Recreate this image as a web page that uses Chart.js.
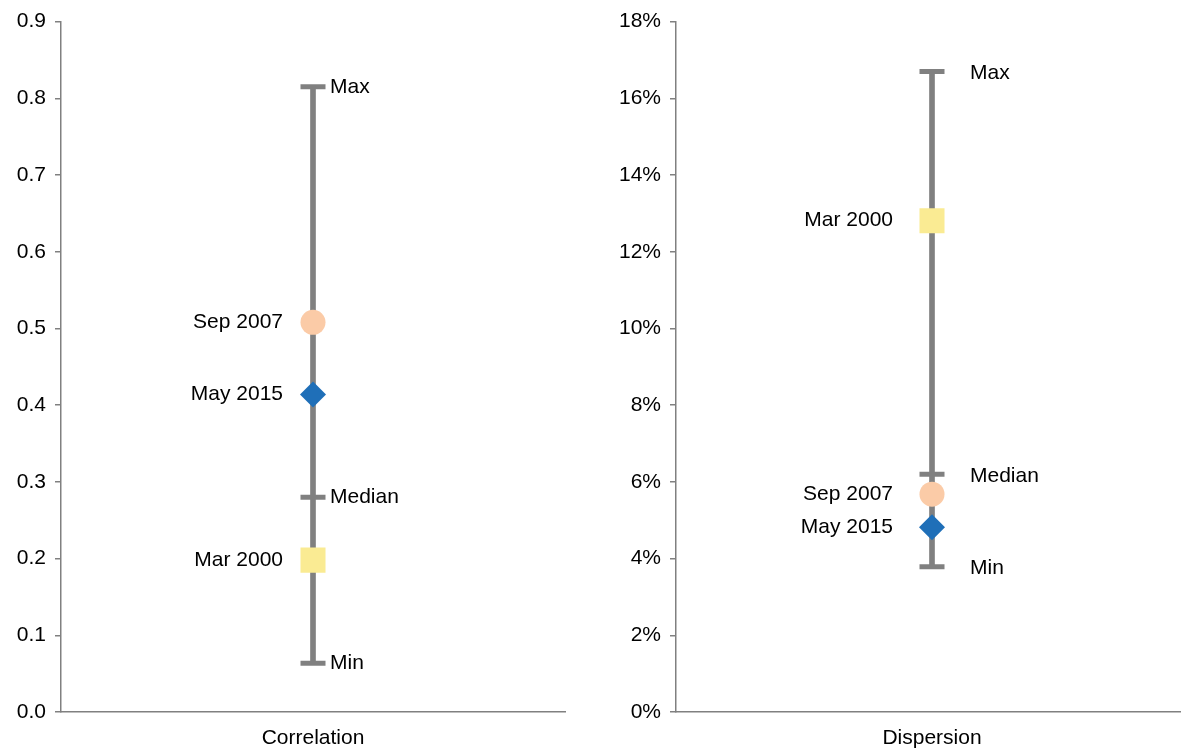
<!DOCTYPE html>
<html>
<head>
<meta charset="utf-8">
<script src="https://cdn.jsdelivr.net/npm/chart.js@4/dist/chart.umd.min.js"></script>
<style>
  html, body { margin: 0; padding: 0; background: #fff; overflow: hidden; }
  canvas { position: absolute; top: 0; }
  #corrChart { left: 0; }
  #dispChart { left: 615px; }
</style>
</head>
<body>
<canvas id="corrChart" width="590" height="748"></canvas>
<canvas id="dispChart" width="573" height="748"></canvas>
<script>
// Data

const markerNames = ["Sep 2007", "May 2015", "Mar 2000"];
const corrMarkers = [0.508, 0.414, 0.198];
const dispMarkers = [5.68, 4.82, 12.81];

const statNames = ["Max", "Median", "Min"];
const corrStats = [0.815, 0.280, 0.0635];
const dispStats = [16.70, 6.20, 3.79];

const corrTicks = ["0.0", "0.1", "0.2", "0.3", "0.4", "0.5", "0.6", "0.7", "0.8", "0.9"];
const dispTicks = ["0%", "2%", "4%", "6%", "8%", "10%", "12%", "14%", "16%", "18%"];

const markerStyles = ["circle", "rectRot", "rect"];
const markerColors = ["#FBCBA7", "#1F6FB8", "#FAEB93"];
const markerRadius = [12.5, 13, 17.7];
const grey = "#808080";
const FONT = "'Liberation Sans', Arial, sans-serif";

// LABELS PLUGIN
const labelPlugin = {
    id: "labels",
    afterDatasetsDraw(chart, args, opts) {
        const ctx = chart.ctx;
        ctx.save();
        ctx.font = "21px " + FONT;
        ctx.fillStyle = "#000";
        ctx.textBaseline = "middle";
        chart.data.datasets.forEach((ds, i) => {
            if (!ds.tag) return;
            const pt = chart.getDatasetMeta(i).data[0];
            if (ds.kind === "stat") {
                ctx.textAlign = "left";
                ctx.fillText(ds.tag, pt.x + opts.statDx, pt.y + opts.statDy);
            } else {
                ctx.textAlign = "right";
                ctx.fillText(ds.tag, pt.x - opts.markDx, pt.y);
            }
        });
        ctx.restore();
    }
};

// BUILD CHART
function makeChart(id, category, markers, stats, ticks, step, opts) {

    const datasets = [];

    markers.forEach((v, i) => {
        datasets.push({
            type: "line",
            tag: markerNames[i],
            kind: "mark",
            data: [v],
            showLine: false,
            pointStyle: markerStyles[i],
            pointRadius: markerRadius[i],
            pointBackgroundColor: markerColors[i],
            pointBorderWidth: 0,
            order: 1
        });
    });

    stats.forEach((v, i) => {
        datasets.push({
            type: "line",
            tag: statNames[i],
            kind: "stat",
            data: [v],
            showLine: false,
            pointStyle: "line",
            pointRadius: 12.5,
            pointBorderColor: grey,
            pointBorderWidth: 5,
            order: 2
        });
    });

    // whisker between min and max
    datasets.push({
        type: "bar",
        data: [[Math.min(...stats), Math.max(...stats)]],
        backgroundColor: grey,
        barThickness: 5,
        order: 3
    });

    new Chart(document.getElementById(id), {
        data: { labels: [category], datasets },
        options: {
            responsive: false,
            animation: false,
            devicePixelRatio: 1,
            layout: {
                autoPadding: false,
                padding: { top: 19, right: opts.padRight, left: 0, bottom: 0 }
            },
            plugins: {
                legend: { display: false },
                tooltip: { enabled: false },
                labels: opts.labels
            },
            scales: {
                x: {
                    type: "category",
                    grid: { display: false, drawTicks: false },
                    border: { color: grey, width: 1.5 },
                    ticks: { color: "#000", font: { size: 21, family: FONT }, padding: 14 },
                    afterFit: s => { s.height = 36; }
                },
                y: {
                    min: 0,
                    max: step * 9,
                    grid: { drawOnChartArea: false, tickLength: 6, color: grey, lineWidth: 1.5 },
                    border: { color: grey, width: 1.5 },
                    ticks: {
                        stepSize: step,
                        color: "#000",
                        padding: 9,
                        font: { size: 21, family: FONT },
                        callback: (v, i) => ticks[i]
                    },
                    afterFit: s => { s.width = opts.axisX; }
                }
            }
        },
        plugins: [labelPlugin]
    });
}

window.onload = () => {
    makeChart("corrChart", "Correlation", corrMarkers, corrStats, corrTicks, 0.1,
        { padRight: 25, axisX: 61, labels: { statDx: 17, statDy: 0, markDx: 30 } });
    makeChart("dispChart", "Dispersion", dispMarkers, dispStats, dispTicks, 2,
        { padRight: 0, axisX: 61, labels: { statDx: 38, statDy: 2, markDx: 39 } });
};
</script>
</body>
</html>
